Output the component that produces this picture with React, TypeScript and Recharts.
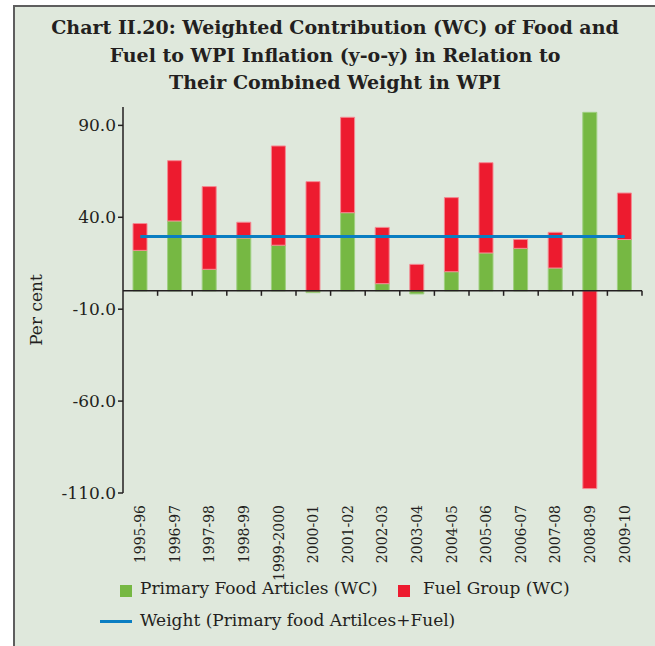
import { ComposedChart, Bar, Line, XAxis, YAxis, ReferenceLine } from 'recharts';

const years = [
    '1995-96', '1996-97', '1997-98', '1998-99', '1999-2000', '2000-01', '2001-02', '2002-03',
    '2003-04', '2004-05', '2005-06', '2006-07', '2007-08', '2008-09', '2009-10',
];
const foodWC = [22.0, 38.0, 11.7, 28.7, 24.8, -1.0, 42.5, 3.9, -1.7, 10.4, 20.6, 23.1, 12.4, 97.1, 27.9];
const fuelWC = [14.6, 32.8, 45.0, 8.6, 54.0, 59.4, 51.9, 30.6, 14.4, 40.3, 49.1, 4.8, 19.4, -107.6, 25.3];
const combinedWeight = [29.5, 29.5, 29.5, 29.5, 29.5, 29.5, 29.5, 29.5, 29.5, 29.5, 29.5, 29.5, 29.5, 29.5, 29.5];
const yTicks = [90, 40, -10, -60, -110];

const chartData = years.map((year, i) => ({
    year,
    food: foodWC[i],
    fuel: fuelWC[i],
    weight: combinedWeight[i],
}));

const FONT = '"DejaVu Serif", serif';
const INK = '#231f20';
const GREEN = '#76b843';
const RED = '#ed1b2f';
const BLUE = '#0a7ec2';

// rotated category labels hanging below the plot
function YearTick(props: any) {
    const { x, y, payload } = props;
    return (
        <text
            x={0}
            y={0}
            transform={`translate(${x},${y + 4}) rotate(-90)`}
            textAnchor="end"
            dy="0.35em"
            fontSize={14}
            fontFamily={FONT}
            fill={INK}
        >
            {payload.value}
        </text>
    );
}

// zero line doubles as the category axis, with ticks between categories
function ZeroAxis(props: any) {
    const { x1, y1, x2 } = props;
    const n = years.length;
    const step = (x2 - x1) / n;
    const ticks = [];
    for (let i = 1; i <= n; i++) {
        const tx = x1 + step * i;
        ticks.push(<line key={i} x1={tx} y1={y1} x2={tx} y2={y1 + 5} stroke={INK} strokeWidth={1.5} />);
    }
    return (
        <g>
            <line x1={x1} y1={y1} x2={x2} y2={y1} stroke={INK} strokeWidth={1.5} />
            {ticks}
        </g>
    );
}

export default function App() {
    return (
        <div style={{ position: 'absolute', left: 0, top: 0, width: 655, height: 646, background: '#fff', fontFamily: FONT, color: INK }}>
            <div
                style={{
                    position: 'absolute',
                    left: 13,
                    top: 5,
                    width: 642,
                    height: 641,
                    background: '#dfe8dc',
                    borderLeft: '2px solid #5e5e5e',
                    borderTop: '2px solid #5e5e5e',
                    boxSizing: 'border-box',
                }}
            />

            {/* Title */}
            <div style={{ position: 'absolute', left: 15, top: 14, width: 640, textAlign: 'center', fontWeight: 'bold', fontSize: 19, lineHeight: '27.5px' }}>
                <div>Chart II.20: Weighted Contribution (WC) of Food and</div>
                <div>Fuel to WPI Inflation (y-o-y) in Relation to</div>
                <div>Their Combined Weight in WPI</div>
            </div>

            <div style={{ position: 'absolute', left: 0, top: 0 }}>
                <ComposedChart
                    width={655}
                    height={646}
                    data={chartData}
                    stackOffset="sign"
                    margin={{ top: 107, right: 13, left: 60, bottom: 63 }}
                >
                    <XAxis
                        dataKey="year"
                        height={90}
                        axisLine={false}
                        tickLine={false}
                        interval={0}
                        tick={<YearTick />}
                    />
                    <YAxis
                        width={63}
                        domain={[-110, 100]}
                        ticks={yTicks}
                        tickFormatter={(v: number) => v.toFixed(1)}
                        tick={{ fontSize: 17, fontFamily: FONT, fill: INK }}
                        axisLine={{ stroke: INK, strokeWidth: 1.5 }}
                        tickLine={{ stroke: INK, strokeWidth: 1.5 }}
                        tickSize={5}
                    />
                    <Bar dataKey="food" stackId="wc" fill={GREEN} stroke="#9fcf80" strokeWidth={1} barSize={14} isAnimationActive={false} />
                    <Bar dataKey="fuel" stackId="wc" fill={RED} stroke="#f48a93" strokeWidth={1} barSize={14} isAnimationActive={false} />
                    <ReferenceLine y={0} shape={<ZeroAxis />} />
                    <Line dataKey="weight" stroke={BLUE} strokeWidth={3} dot={false} activeDot={false} isAnimationActive={false} />
                </ComposedChart>
            </div>

            {/* Y axis title */}
            <div
                style={{
                    position: 'absolute',
                    left: 36,
                    top: 310,
                    fontSize: 17,
                    whiteSpace: 'nowrap',
                    transform: 'translate(-50%, -50%) rotate(-90deg)',
                }}
            >
                Per cent
            </div>

            {/* Legend */}
            <div style={{ position: 'absolute', left: 120, top: 585, width: 12, height: 12, background: GREEN }} />
            <div style={{ position: 'absolute', left: 140, top: 578, fontSize: 17, whiteSpace: 'nowrap' }}>Primary Food Articles (WC)</div>
            <div style={{ position: 'absolute', left: 398, top: 585, width: 12, height: 12, background: RED }} />
            <div style={{ position: 'absolute', left: 423, top: 578, fontSize: 17, whiteSpace: 'nowrap' }}>Fuel Group (WC)</div>
            <div style={{ position: 'absolute', left: 100, top: 620, width: 32, height: 3, background: BLUE }} />
            <div style={{ position: 'absolute', left: 140, top: 610, fontSize: 17, whiteSpace: 'nowrap' }}>Weight (Primary food Artilces+Fuel)</div>
        </div>
    );
}
